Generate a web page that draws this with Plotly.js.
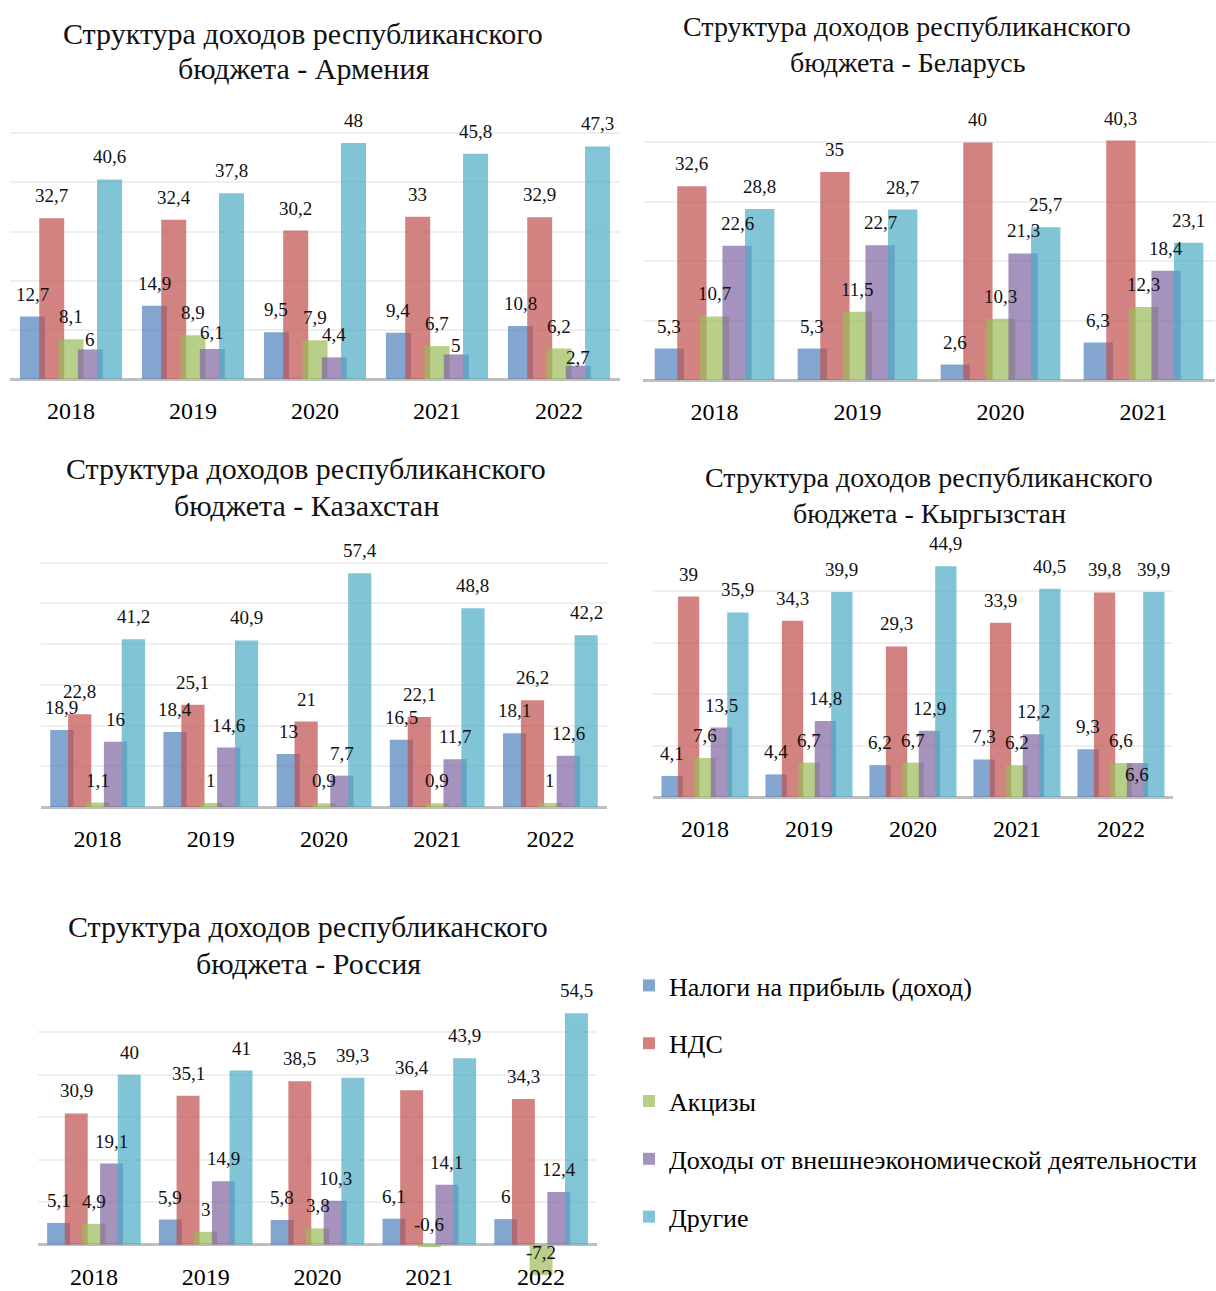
<!DOCTYPE html>
<html><head><meta charset="utf-8">
<script src="https://cdn.plot.ly/plotly-3.0.1.min.js"></script>
<style>html,body{margin:0;padding:0;background:#fff}#chart{width:1216px;height:1291px}</style>
</head><body><div id="chart"></div>
<script>
// ---------- data ----------
const seriesNames = ['Налоги на прибыль (доход)', 'НДС', 'Акцизы', 'Доходы от внешнеэкономической деятельности', 'Другие'];
const years5 = ['2018', '2019', '2020', '2021', '2022'];
const years4 = ['2018', '2019', '2020', '2021'];

const armeniaProfitTax = [12.7, 14.9, 9.5, 9.4, 10.8];
const armeniaVat       = [32.7, 32.4, 30.2, 33, 32.9];
const armeniaExcise    = [8.1, 8.9, 7.9, 6.7, 6.2];
const armeniaForeign   = [6, 6.1, 4.4, 5, 2.7];
const armeniaOther     = [40.6, 37.8, 48, 45.8, 47.3];

const belarusProfitTax = [5.3, 5.3, 2.6, 6.3];
const belarusVat       = [32.6, 35, 40, 40.3];
const belarusExcise    = [10.7, 11.5, 10.3, 12.3];
const belarusForeign   = [22.6, 22.7, 21.3, 18.4];
const belarusOther     = [28.8, 28.7, 25.7, 23.1];

const kazakhstanProfitTax = [18.9, 18.4, 13, 16.5, 18.1];
const kazakhstanVat       = [22.8, 25.1, 21, 22.1, 26.2];
const kazakhstanExcise    = [1.1, 1, 0.9, 0.9, 1];
const kazakhstanForeign   = [16, 14.6, 7.7, 11.7, 12.6];
const kazakhstanOther     = [41.2, 40.9, 57.4, 48.8, 42.2];

const kyrgyzstanProfitTax = [4.1, 4.4, 6.2, 7.3, 9.3];
const kyrgyzstanVat       = [39, 34.3, 29.3, 33.9, 39.8];
const kyrgyzstanExcise    = [7.6, 6.7, 6.7, 6.2, 6.6];
const kyrgyzstanForeign   = [13.5, 14.8, 12.9, 12.2, 6.6];
const kyrgyzstanOther     = [35.9, 39.9, 44.9, 40.5, 39.9];

const russiaProfitTax = [5.1, 5.9, 5.8, 6.1, 6];
const russiaVat       = [30.9, 35.1, 38.5, 36.4, 34.3];
const russiaExcise    = [4.9, 3, 3.8, -0.6, -7.2];
const russiaForeign   = [19.1, 14.9, 10.3, 14.1, 12.4];
const russiaOther     = [40, 41, 39.3, 43.9, 54.5];

// ---------- layout helpers ----------
const W = 1216, H = 1291;
const fx = p => p / W, fy = p => 1 - p / H;
const FONT = '"Liberation Serif", "Times New Roman", serif';
const colors = ['#4F81BD', '#C0504D', '#9BBB59', '#8064A2', '#4BACC6'];
const BAR_W = 0.205, STEP = 0.158;
const titleLine1 = 'Структура доходов республиканского';

const panels = [
  {country: 'Армения', years: years5,
   data: [armeniaProfitTax, armeniaVat, armeniaExcise, armeniaForeign, armeniaOther],
   box: [10, 620, 84, 379], yr: [0, 60], title: [303, 33, 69], tsize: 30},
  {country: 'Беларусь', years: years4,
   data: [belarusProfitTax, belarusVat, belarusExcise, belarusForeign, belarusOther],
   box: [643, 1215, 83, 380], yr: [0, 50], title: [907, 27, 63], tsize: 28},
  {country: 'Казахстан', years: years5,
   data: [kazakhstanProfitTax, kazakhstanVat, kazakhstanExcise, kazakhstanForeign, kazakhstanOther],
   box: [41, 607, 522, 807], yr: [0, 70], title: [306, 468, 505], tsize: 30},
  {country: 'Кыргызстан', years: years5,
   data: [kyrgyzstanProfitTax, kyrgyzstanVat, kyrgyzstanExcise, kyrgyzstanForeign, kyrgyzstanOther],
   box: [653, 1173, 540, 797], yr: [0, 50], title: [929, 478, 514], tsize: 28},
  {country: 'Россия', years: years5,
   data: [russiaProfitTax, russiaVat, russiaExcise, russiaForeign, russiaOther],
   box: [38, 597, 990, 1287], yr: [-10, 60], title: [308, 926, 963], tsize: 30}
];

// label placement tweaks (panel, series, category) -> vertical pixel shift
const labelNudges = [
  [0, 3, 0, -12], [0, 3, 1, -6], [0, 3, 3, -14], [0, 3, 4, -14],
  [3, 3, 4, -34]
];
const nudge = (i, k, j) => {
  const n = labelNudges.find(t => t[0] === i && t[1] === k && t[2] === j);
  return n ? n[3] : 0;
};

const traces = [];
const annotations = [];
const layout = {
  width: W, height: H,
  margin: {l: 0, r: 0, t: 0, b: 0},
  paper_bgcolor: '#ffffff', plot_bgcolor: 'rgba(0,0,0,0)',
  font: {family: FONT, color: '#000'},
  showlegend: true,
  legend: {
    x: fx(629), y: fy(962), xanchor: 'left', yanchor: 'top',
    orientation: 'v', tracegroupgap: 21, traceorder: 'grouped',
    font: {family: FONT, size: 26, color: '#000'},
    bgcolor: 'rgba(0,0,0,0)'
  },
  annotations: annotations
};

panels.forEach((p, i) => {
  const id = i === 0 ? '' : String(i + 1);
  const [x0, x1, y0, y1] = p.box;
  const zeroPx = y1 - (0 - p.yr[0]) / (p.yr[1] - p.yr[0]) * (y1 - y0);
  const xs = p.years.map((_, j) => j);
  layout['xaxis' + id] = {
    domain: [fx(x0), fx(x1)], range: [-0.5, p.years.length - 0.5],
    tickvals: xs, ticktext: p.years, showgrid: false, zeroline: false, showline: false,
    ticks: '', ticklabelstandoff: 15,
    tickfont: {family: FONT, size: 24, color: '#000'},
    anchor: 'free', position: fy(zeroPx), fixedrange: true
  };
  layout['yaxis' + id] = {
    domain: [fy(y1), fy(y0)], range: p.yr, dtick: 10, tick0: 0,
    showticklabels: false, ticks: '', gridcolor: '#efefef', gridwidth: 2,
    zeroline: true, zerolinecolor: '#bfbfbf', zerolinewidth: 3,
    anchor: 'x' + id, fixedrange: true
  };
  p.data.forEach((vals, k) => {
    traces.push({
      type: 'bar', x: xs, y: vals, xaxis: 'x' + id, yaxis: 'y' + id,
      name: seriesNames[k], legendgroup: 's' + k, showlegend: i === 0,
      marker: {color: colors[k], line: {width: 0}}, opacity: 0.7,
      offset: (k - 2) * STEP - BAR_W / 2, width: BAR_W, hoverinfo: 'skip'
    });
    vals.forEach((v, j) => {
      annotations.push({
        xref: 'x' + id, yref: 'y' + id, x: j + (k - 2) * STEP, y: v,
        text: String(v).replace('.', ','), showarrow: false,
        xanchor: 'center', yanchor: 'bottom', yshift: 10 + nudge(i, k, j),
        font: {family: FONT, size: 19, color: '#111'}
      });
    });
  });
  annotations.push({
    xref: 'paper', yref: 'paper', x: fx(p.title[0]), y: fy(p.title[1]),
    xanchor: 'center', yanchor: 'middle', showarrow: false,
    text: titleLine1, font: {family: FONT, size: p.tsize, color: '#111'}
  });
  annotations.push({
    xref: 'paper', yref: 'paper', x: fx(p.title[0]), y: fy(p.title[2]),
    xanchor: 'center', yanchor: 'middle', showarrow: false,
    text: 'бюджета - ' + p.country, font: {family: FONT, size: p.tsize, color: '#111'}
  });
});

Plotly.newPlot('chart', traces, layout, {displayModeBar: false, staticPlot: true});
</script>
</body></html>
